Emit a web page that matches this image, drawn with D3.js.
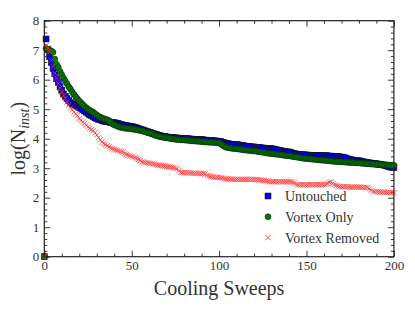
<!DOCTYPE html>
<html>
<head>
<meta charset="utf-8">
<script src="https://cdn.jsdelivr.net/npm/d3@7"></script>
<style>
  body { margin: 0; background: #fff; }
</style>
</head>
<body>
<svg id="chart" width="415" height="312"></svg>
<script>
// log(N_inst) per cooling sweep, sweeps 0..200
var untouched = [
  0, 7.38, 7.02, 6.78, 6.58, 6.38, 6.20, 6.03, 5.90, 5.76,
  5.64, 5.52, 5.44, 5.36, 5.29, 5.23, 5.18, 5.16, 5.13, 5.10,
  5.06, 5.03, 4.98, 4.94, 4.90, 4.86, 4.81, 4.78, 4.74, 4.71,
  4.69, 4.66, 4.64, 4.62, 4.60, 4.58, 4.58, 4.57, 4.55, 4.55,
  4.54, 4.53, 4.52, 4.50, 4.48, 4.46, 4.45, 4.44, 4.43, 4.42,
  4.42, 4.40, 4.38, 4.36, 4.34, 4.32, 4.30, 4.28, 4.26, 4.24,
  4.22, 4.20, 4.18, 4.16, 4.14, 4.12, 4.11, 4.09, 4.08, 4.07,
  4.06, 4.05, 4.04, 4.04, 4.03, 4.03, 4.02, 4.02, 4.01, 4.01,
  4.01, 4.00, 4.00, 3.99, 3.99, 3.98, 3.98, 3.98, 3.97, 3.97,
  3.97, 3.96, 3.95, 3.95, 3.94, 3.94, 3.93, 3.93, 3.92, 3.92,
  3.91, 3.90, 3.88, 3.86, 3.84, 3.83, 3.82, 3.81, 3.81, 3.80,
  3.80, 3.79, 3.78, 3.77, 3.76, 3.75, 3.74, 3.73, 3.73, 3.72,
  3.72, 3.71, 3.70, 3.70, 3.69, 3.68, 3.68, 3.67, 3.67, 3.66,
  3.66, 3.65, 3.64, 3.62, 3.61, 3.60, 3.58, 3.57, 3.56, 3.55,
  3.55, 3.53, 3.51, 3.50, 3.48, 3.47, 3.46, 3.46, 3.45, 3.45,
  3.45, 3.44, 3.44, 3.44, 3.43, 3.43, 3.43, 3.43, 3.42, 3.42,
  3.42, 3.42, 3.42, 3.41, 3.41, 3.40, 3.40, 3.39, 3.39, 3.38,
  3.38, 3.37, 3.35, 3.33, 3.31, 3.29, 3.28, 3.27, 3.26, 3.25,
  3.25, 3.24, 3.22, 3.21, 3.20, 3.19, 3.18, 3.17, 3.16, 3.16,
  3.15, 3.14, 3.13, 3.12, 3.11, 3.10, 3.08, 3.05, 3.04, 3.03,
  3.02
];

var vortexOnly = [
  0, 7.06, 7.02, 7.00, 6.97, 6.93, 6.70, 6.52, 6.42, 6.28,
  6.17, 6.06, 5.96, 5.86, 5.76, 5.68, 5.58, 5.50, 5.42, 5.35,
  5.28, 5.22, 5.16, 5.10, 5.05, 5.00, 4.96, 4.93, 4.90, 4.85,
  4.80, 4.76, 4.73, 4.70, 4.68, 4.66, 4.64, 4.61, 4.56, 4.50,
  4.47, 4.45, 4.42, 4.40, 4.38, 4.37, 4.36, 4.35, 4.35, 4.34,
  4.33, 4.32, 4.31, 4.30, 4.29, 4.28, 4.27, 4.25, 4.23, 4.21,
  4.20, 4.18, 4.16, 4.13, 4.11, 4.09, 4.07, 4.06, 4.05, 4.04,
  4.03, 4.02, 4.01, 4.00, 3.99, 3.98, 3.97, 3.97, 3.96, 3.96,
  3.96, 3.95, 3.95, 3.94, 3.93, 3.93, 3.92, 3.92, 3.91, 3.91,
  3.90, 3.90, 3.89, 3.89, 3.88, 3.88, 3.88, 3.87, 3.87, 3.86,
  3.86, 3.82, 3.78, 3.74, 3.71, 3.70, 3.69, 3.68, 3.67, 3.66,
  3.66, 3.65, 3.64, 3.63, 3.62, 3.62, 3.61, 3.60, 3.60, 3.59,
  3.59, 3.58, 3.57, 3.56, 3.55, 3.54, 3.53, 3.52, 3.51, 3.50,
  3.50, 3.49, 3.48, 3.47, 3.47, 3.46, 3.45, 3.44, 3.43, 3.42,
  3.42, 3.41, 3.40, 3.39, 3.38, 3.37, 3.36, 3.35, 3.34, 3.33,
  3.33, 3.32, 3.32, 3.31, 3.30, 3.30, 3.29, 3.28, 3.28, 3.27,
  3.27, 3.26, 3.26, 3.25, 3.24, 3.24, 3.23, 3.23, 3.22, 3.22,
  3.22, 3.21, 3.21, 3.20, 3.20, 3.19, 3.19, 3.19, 3.18, 3.18,
  3.18, 3.17, 3.17, 3.16, 3.16, 3.15, 3.15, 3.14, 3.14, 3.13,
  3.13, 3.13, 3.12, 3.12, 3.12, 3.11, 3.11, 3.11, 3.10, 3.10,
  3.10
];

var vortexRemoved = [
  0, 7.15, 7.08, 6.95, 6.65, 6.45, 6.22, 6.05, 5.88, 5.72,
  5.58, 5.46, 5.36, 5.24, 5.14, 5.04, 4.97, 4.90, 4.84, 4.78,
  4.68, 4.62, 4.57, 4.52, 4.46, 4.40, 4.35, 4.31, 4.27, 4.20,
  4.12, 4.04, 3.96, 3.88, 3.84, 3.80, 3.76, 3.72, 3.69, 3.66,
  3.64, 3.62, 3.60, 3.58, 3.56, 3.54, 3.50, 3.47, 3.44, 3.42,
  3.40, 3.38, 3.36, 3.33, 3.30, 3.26, 3.22, 3.20, 3.19, 3.18,
  3.17, 3.16, 3.15, 3.14, 3.12, 3.11, 3.10, 3.09, 3.08, 3.07,
  3.06, 3.05, 3.04, 3.03, 3.02, 3.00, 2.98, 2.92, 2.86, 2.85,
  2.85, 2.85, 2.84, 2.84, 2.84, 2.83, 2.83, 2.83, 2.83, 2.82,
  2.82, 2.82, 2.80, 2.76, 2.74, 2.72, 2.71, 2.70, 2.69, 2.69,
  2.69, 2.68, 2.67, 2.65, 2.63, 2.63, 2.63, 2.63, 2.63, 2.62,
  2.62, 2.62, 2.62, 2.62, 2.62, 2.62, 2.62, 2.62, 2.62, 2.62,
  2.62, 2.62, 2.61, 2.60, 2.60, 2.59, 2.58, 2.57, 2.56, 2.55,
  2.54, 2.54, 2.54, 2.54, 2.54, 2.54, 2.54, 2.54, 2.54, 2.54,
  2.54, 2.54, 2.53, 2.50, 2.46, 2.44, 2.44, 2.44, 2.44, 2.44,
  2.44, 2.44, 2.44, 2.44, 2.44, 2.44, 2.44, 2.44, 2.44, 2.45,
  2.45, 2.46, 2.48, 2.52, 2.54, 2.48, 2.43, 2.42, 2.40, 2.38,
  2.37, 2.37, 2.37, 2.37, 2.37, 2.36, 2.36, 2.36, 2.36, 2.36,
  2.36, 2.36, 2.35, 2.35, 2.35, 2.34, 2.30, 2.25, 2.21, 2.20,
  2.20, 2.20, 2.19, 2.19, 2.19, 2.19, 2.18, 2.18, 2.18, 2.17,
  2.17
];

var seriesNames = ["Untouched", "Vortex Only", "Vortex Removed"];
var xTicks = [0, 50, 100, 150, 200];
var yTicks = [0, 1, 2, 3, 4, 5, 6, 7, 8];

var FONT = "'Liberation Serif', 'Times New Roman', serif";

var svg = d3.select("#chart"),
    margin = { top: 20.7, right: 21.1, bottom: 55.3, left: 44.3 },
    width = +svg.attr("width") - margin.left - margin.right,
    height = +svg.attr("height") - margin.top - margin.bottom;

var g = svg.append("g").attr("transform", "translate(" + margin.left + "," + margin.top + ")");

var x = d3.scaleLinear().domain([0, 200]).range([0, width]);
var y = d3.scaleLinear().domain([0, 8]).range([height, 0]);

var xMinor = d3.range(0, 201, 10).filter(function (d) { return d % 50 !== 0; });
var yMinor = d3.range(0, 8.01, 0.2).filter(function (d) { return Math.abs(d - Math.round(d)) > 0.01; });

// inward ticks on all four sides
function styleAxis(sel) {
  sel.attr("font-family", FONT);
  sel.select(".domain").remove();
  sel.selectAll("line").attr("stroke", "#222").attr("stroke-width", 0.9);
  sel.selectAll("text").attr("font-size", 13).attr("fill", "#333").attr("font-family", FONT);
}

g.append("g").attr("transform", "translate(0," + height + ")")
  .call(d3.axisBottom(x).tickValues(xTicks).tickSize(-6).tickPadding(4).tickFormat(d3.format("d")))
  .call(styleAxis);
g.append("g").attr("transform", "translate(0," + height + ")")
  .call(d3.axisBottom(x).tickValues(xMinor).tickSize(-3).tickFormat(""))
  .call(styleAxis);
g.append("g")
  .call(d3.axisTop(x).tickValues(xTicks).tickSize(-6).tickFormat(""))
  .call(styleAxis);
g.append("g")
  .call(d3.axisTop(x).tickValues(xMinor).tickSize(-3).tickFormat(""))
  .call(styleAxis);

g.append("g")
  .call(d3.axisLeft(y).tickValues(yTicks).tickSize(-6).tickPadding(5).tickFormat(d3.format("d")))
  .call(styleAxis);
g.append("g")
  .call(d3.axisLeft(y).tickValues(yMinor).tickSize(-3).tickFormat(""))
  .call(styleAxis);
g.append("g").attr("transform", "translate(" + width + ",0)")
  .call(d3.axisRight(y).tickValues(yTicks).tickSize(-6).tickFormat(""))
  .call(styleAxis);
g.append("g").attr("transform", "translate(" + width + ",0)")
  .call(d3.axisRight(y).tickValues(yMinor).tickSize(-3).tickFormat(""))
  .call(styleAxis);

// data
var sq = 6;
g.append("g").selectAll("rect")
  .data(untouched)
  .enter()
  .append("rect")
  .attr("x", function (d, i) { return x(i) - sq / 2; })
  .attr("y", function (d) { return y(d) - sq / 2; })
  .attr("width", sq)
  .attr("height", sq)
  .attr("fill", "#0000ee")
  .attr("stroke", "#111")
  .attr("stroke-width", 0.5);

g.append("g").selectAll("circle")
  .data(vortexOnly)
  .enter()
  .append("circle")
  .attr("cx", function (d, i) { return x(i); })
  .attr("cy", function (d) { return y(d); })
  .attr("r", 3)
  .attr("fill", "#007a00")
  .attr("stroke", "#111")
  .attr("stroke-width", 0.5);

var cross = d3.symbol().type(d3.symbolX).size(20);
g.append("g").selectAll("path")
  .data(vortexRemoved)
  .enter()
  .append("path")
  .attr("d", cross)
  .attr("transform", function (d, i) { return "translate(" + x(i) + "," + y(d) + ")"; })
  .attr("fill", "none")
  .attr("stroke", "#ff3030")
  .attr("stroke-opacity", 0.85)
  .attr("stroke-width", 0.9);

// frame
g.append("rect")
  .attr("width", width)
  .attr("height", height)
  .attr("fill", "none")
  .attr("stroke", "#222")
  .attr("stroke-width", 1.2);

// legend
var legend = svg.append("g").attr("transform", "translate(268,196)");
var rowH = 20.8;
legend.append("rect").attr("x", -3).attr("y", -3).attr("width", 6).attr("height", 6)
  .attr("fill", "#0000ee").attr("stroke", "#111").attr("stroke-width", 0.5);
legend.append("circle").attr("cx", 0).attr("cy", rowH).attr("r", 3)
  .attr("fill", "#007a00").attr("stroke", "#111").attr("stroke-width", 0.5);
legend.append("path").attr("d", cross).attr("transform", "translate(0," + (2 * rowH) + ")")
  .attr("fill", "none").attr("stroke", "#ff3030").attr("stroke-width", 0.9);
legend.selectAll("text.lbl")
  .data(seriesNames)
  .enter()
  .append("text")
  .attr("class", "lbl")
  .attr("x", 17)
  .attr("y", function (d, i) { return i * rowH; })
  .attr("dy", "0.35em")
  .attr("font-family", FONT)
  .attr("font-size", 14)
  .attr("fill", "#333")
  .text(function (d) { return d; });

// axis titles
svg.append("text")
  .attr("x", margin.left + width / 2)
  .attr("y", 295)
  .attr("text-anchor", "middle")
  .attr("font-family", FONT)
  .attr("font-size", 20)
  .attr("fill", "#333")
  .text("Cooling Sweeps");

var yl = svg.append("text")
  .attr("transform", "translate(25," + (margin.top + height / 2) + ") rotate(-90)")
  .attr("text-anchor", "middle")
  .attr("font-family", FONT)
  .attr("font-size", 20)
  .attr("fill", "#333");
yl.append("tspan").text("log(N");
yl.append("tspan").attr("font-style", "italic").attr("font-size", 14).attr("dy", 4).text("inst");
yl.append("tspan").attr("dy", -4).text(")");
</script>
</body>
</html>
